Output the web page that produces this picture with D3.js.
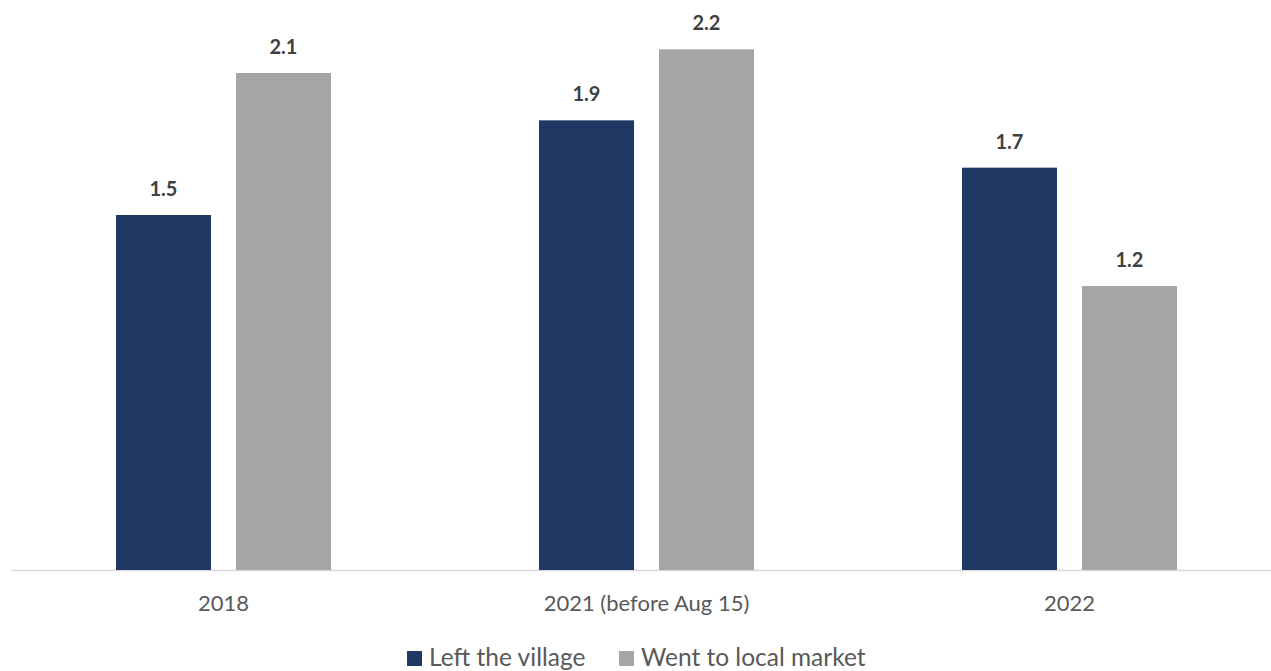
<!DOCTYPE html>
<html lang="en">
<head>
<meta charset="UTF-8">
<title>Chart</title>
<style>
  body { margin: 0; background: #fff; }
  text { font-family: Lato, "Open Sans", sans-serif; }
</style>
</head>
<body>
<svg id="chart" width="1271" height="671"></svg>
<script src="https://d3js.org/d3.v7.min.js"></script>
<script>
// data
var categories = ["2018", "2021 (before Aug 15)", "2022"];
var seriesNames = ["Left the village", "Went to local market"];
var leftVillage = [1.5, 1.9, 1.7];
var localMarket = [2.1, 2.2, 1.2];
var colors = ["#203864", "#a5a5a5"];

var rows = categories.map(function(c, i) {
  return { cat: c, values: [leftVillage[i], localMarket[i]] };
});

var svg = d3.select("#chart");
var baseY = 570;

var x0 = d3.scaleBand().domain(categories).range([12, 1281]).padding(0);
var x1 = d3.scaleBand().domain([0, 1]).range([104, 319]).paddingInner(0.2083).paddingOuter(0);
var y = d3.scaleLinear().domain([0, 1.5]).range([baseY, 215]);

// baseline
svg.append("line")
  .attr("x1", 11).attr("x2", 1271)
  .attr("y1", baseY + 0.5).attr("y2", baseY + 0.5)
  .attr("stroke", "#d9d9d9").attr("stroke-width", 1.5);

var groups = svg.selectAll("g.grp")
  .data(rows)
  .enter()
  .append("g")
  .attr("class", "grp")
  .attr("transform", function(d) { return "translate(" + x0(d.cat) + ",0)"; });

groups.selectAll("rect")
  .data(function(d) { return d.values; })
  .enter()
  .append("rect")
  .attr("x", function(d, i) { return x1(i); })
  .attr("y", function(d) { return y(d); })
  .attr("width", x1.bandwidth())
  .attr("height", function(d) { return baseY - y(d); })
  .attr("fill", function(d, i) { return colors[i]; });

groups.selectAll("text.val")
  .data(function(d) { return d.values; })
  .enter()
  .append("text")
  .attr("class", "val")
  .attr("x", function(d, i) { return x1(i) + x1.bandwidth() / 2; })
  .attr("y", function(d) { return y(d) - 19; })
  .attr("text-anchor", "middle")
  .attr("font-size", 20)
  .attr("font-weight", "bold")
  .attr("fill", "#404040")
  .text(function(d) { return d.toFixed(1); });

// category labels
svg.selectAll("text.cat")
  .data(categories)
  .enter()
  .append("text")
  .attr("class", "cat")
  .attr("x", function(d) { return x0(d) + x0.bandwidth() / 2; })
  .attr("y", 611)
  .attr("text-anchor", "middle")
  .attr("font-size", 22)
  .attr("fill", "#595959")
  .text(function(d) { return d; });

// legend
var legendX = [407, 619];
var legend = svg.selectAll("g.leg")
  .data(seriesNames)
  .enter()
  .append("g")
  .attr("class", "leg")
  .attr("transform", function(d, i) { return "translate(" + legendX[i] + ",651)"; });

legend.append("rect")
  .attr("width", 15).attr("height", 15)
  .attr("fill", function(d, i) { return colors[i]; });

legend.append("text")
  .attr("x", 22).attr("y", 15)
  .attr("font-size", 24.5)
  .attr("fill", "#595959")
  .text(function(d) { return d; });
</script>
</body>
</html>
